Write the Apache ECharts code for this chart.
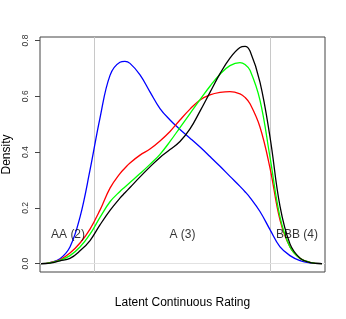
<!DOCTYPE html>
<html>
<head>
<meta charset="utf-8">
<script src="https://cdn.jsdelivr.net/npm/echarts@6/dist/echarts.min.js"></script>
<style>
html,body{margin:0;padding:0;background:#fff;}
#chart{width:346px;height:319px;}
</style>
</head>
<body>
<div id="chart"></div>
<script>
// Latent continuous rating (x) shared by all curves
var ratingX = [-1.602,-1.5,-1.386,-1.273,-1.159,-1.045,-0.932,-0.818,-0.705,-0.648,-0.591,-0.477,-0.364,-0.25,-0.136,-0.023,0.091,0.205,0.318,0.432,0.545,0.659,0.716,0.773,0.886,1.0,1.114,1.227,1.341,1.455,1.591];
var densBlue  = [0,0.004,0.018,0.060,0.167,0.336,0.522,0.675,0.722,0.725,0.718,0.677,0.616,0.556,0.515,0.481,0.450,0.418,0.384,0.349,0.313,0.277,0.258,0.237,0.187,0.122,0.060,0.029,0.011,0.003,0];
var densRed   = [0,0.004,0.014,0.038,0.074,0.124,0.192,0.271,0.323,0.343,0.361,0.389,0.411,0.440,0.474,0.515,0.554,0.587,0.605,0.614,0.617,0.609,0.596,0.573,0.490,0.343,0.156,0.060,0.019,0.005,0];
var densGreen = [0,0.003,0.012,0.029,0.060,0.106,0.166,0.222,0.259,0.275,0.291,0.323,0.356,0.392,0.438,0.488,0.538,0.588,0.636,0.679,0.710,0.721,0.714,0.693,0.586,0.382,0.167,0.060,0.019,0.005,0];
var densBlack = [0,0.002,0.010,0.019,0.046,0.083,0.139,0.191,0.235,0.254,0.273,0.311,0.347,0.381,0.409,0.438,0.483,0.547,0.614,0.681,0.737,0.775,0.779,0.762,0.651,0.454,0.205,0.071,0.020,0.004,0];
var cutpoints = [-1.0, 1.0];
var categoryLabels = ['AA (2)', 'A (3)', 'BBB (4)'];
var labelX = [-1.295, 0.006, 1.307];
var labelY = 0.103;
var yTicks = [0, 0.2, 0.4, 0.6, 0.8];

function pairs(ys){ return ratingX.map(function(x,i){ return [x, ys[i]]; }); }

var chart = echarts.init(document.getElementById('chart'), null, {renderer:'canvas'});
var font = 'Liberation Sans, Arial, Helvetica, sans-serif';
function curve(name, color, ys){
  return {
    name: name, type: 'line', data: pairs(ys), smooth: 0.4, symbol: 'none',
    lineStyle: {color: color, width: 1.3}, z: 5, silent: true, animation: false
  };
}
var series = [
  {
    type: 'line', data: [], silent: true, animation: false,
    markLine: {
      symbol: 'none', silent: true, animation: false, label: {show: false},
      data: cutpoints.map(function(c){ return {xAxis: c, lineStyle: {color: '#c8c8c8', width: 1, type: 'solid'}}; })
        .concat([{yAxis: 0, lineStyle: {color: '#e2e2e2', width: 1, type: 'solid'}}])
    }
  },
  curve('blue', '#0000ff', densBlue),
  curve('red', '#ff0000', densRed),
  curve('green', '#00ff00', densGreen),
  curve('black', '#000000', densBlack),
  {
    type: 'scatter', symbolSize: 0, silent: true, animation: false, z: 10,
    data: categoryLabels.map(function(t,i){ return {value: [labelX[i], labelY], name: t}; }),
    label: {show: true, position: 'inside', formatter: function(p){ return p.name; },
      color: '#000', fontSize: 12, fontFamily: font}
  }
];

chart.setOption({
  animation: false,
  backgroundColor: '#fff',
  grid: {left: 40, right: 21, top: 37, bottom: 47, containLabel: false, outerBoundsMode: 'none',
    show: true, borderColor: '#444', borderWidth: 1, backgroundColor: 'transparent'},
  xAxis: {
    type: 'value', min: -1.6136, max: 1.625,
    name: 'Latent Continuous Rating', nameLocation: 'middle', nameGap: 25,
    nameTextStyle: {color: '#000', fontSize: 12, fontFamily: font},
    axisLine: {show: false, onZero: false}, axisTick: {show: false}, axisLabel: {show: false}, splitLine: {show: false}
  },
  yAxis: {
    type: 'value', min: -0.0298, max: 0.8125,
    name: 'Density', nameLocation: 'middle', nameGap: 27, nameRotate: 90,
    nameTextStyle: {color: '#000', fontSize: 12, fontFamily: font},
    axisLine: {show: false, onZero: false},
    axisTick: {show: true, inside: false, length: 5, customValues: yTicks, lineStyle: {color: '#444'}},
    axisLabel: {show: true, rotate: 90, margin: 10, customValues: yTicks, fontSize: 8.5, color: '#333', fontFamily: font,
      formatter: function(v){ return v.toFixed(1); }},
    splitLine: {show: false}
  },
  series: series
});
</script>
</body>
</html>
